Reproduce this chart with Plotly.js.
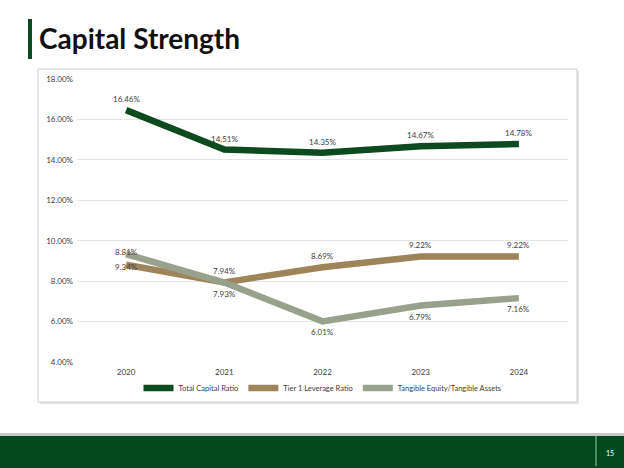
<!DOCTYPE html>
<html>
<head>
<meta charset="utf-8">
<script src="https://cdn.plot.ly/plotly-3.0.1.min.js"></script>
<style>
  html, body { margin: 0; padding: 0; background: #ffffff; }
  #chart { width: 624px; height: 468px; }
</style>
</head>
<body>
<div id="chart"></div>
<script>
// Capital ratios by year (percent)
const years = ['2020', '2021', '2022', '2023', '2024'];
const totalCapital = [16.46, 14.51, 14.35, 14.67, 14.78];
const tier1Leverage = [8.81, 7.94, 8.69, 9.22, 9.22];
const tangibleEquity = [9.34, 7.93, 6.01, 6.79, 7.16];
const yTicks = [4, 6, 8, 10, 12, 14, 16, 18];

const W = 624, H = 468;
const M = { l: 77, r: 56, t: 79, b: 106 };
const PW = W - M.l - M.r, PH = H - M.t - M.b;
// page pixel -> paper (plot-area) fraction
const px = x => (x - M.l) / PW;
const py = y => (H - M.b - y) / PH;

const fmt = v => v.toFixed(2) + '%';
const FONT = 'Lato, "Open Sans", sans-serif';
const labelFont = { family: FONT, size: 8, color: '#404040' };

const series = [
  { name: 'Total Capital Ratio', values: totalCapital, color: '#0e4a1f', shift: 11 },
  { name: 'Tier 1 Leverage Ratio', values: tier1Leverage, color: '#9f845a', shift: 11 },
  { name: 'Tangible Equity/Tangible Assets', values: tangibleEquity, color: '#98a18c', shift: -11 }
];

const traces = series.map(s => ({
  type: 'scatter',
  mode: 'lines',
  name: s.name,
  x: years,
  y: s.values,
  line: { color: s.color, width: 6.5 },
  cliponaxis: false,
  hoverinfo: 'skip'
}));

// value labels above / below each point (x given as the category index)
const valueLabels = [];
series.forEach(s => {
  s.values.forEach((v, i) => {
    // the two 2020 lower labels sit close together; spread them a little
    const extra = (i === 0 && s.values !== totalCapital) ? 2 : 0;
    valueLabels.push({
      x: i, y: v, xref: 'x', yref: 'y',
      text: fmt(v), showarrow: false,
      xanchor: 'center', yanchor: 'middle',
      yshift: s.shift + Math.sign(s.shift) * extra,
      font: labelFont
    });
  });
});

const layout = {
  width: W,
  height: H,
  paper_bgcolor: '#ffffff',
  plot_bgcolor: 'rgba(0,0,0,0)',
  margin: M,
  showlegend: true,
  legend: {
    orientation: 'h',
    x: 0.5, xanchor: 'center',
    y: py(388), yanchor: 'middle',
    font: { family: FONT, size: 7.5, color: '#404040' },
    itemwidth: 30,
    tracegroupgap: 0,
    bgcolor: 'rgba(0,0,0,0)'
  },
  xaxis: {
    type: 'category',
    range: [-0.5, 4.5],
    showgrid: false,
    zeroline: false,
    showline: false,
    ticks: '',
    ticklabelstandoff: 4,
    tickfont: { family: FONT, size: 8, color: '#404040' },
    fixedrange: true
  },
  yaxis: {
    range: [4, 18],
    tickvals: yTicks,
    ticktext: yTicks.map(v => v.toFixed(2) + '%'),
    showgrid: true,
    gridcolor: '#e4e4e4',
    gridwidth: 1,
    zeroline: false,
    showline: false,
    ticks: '',
    ticklabelstandoff: 3,
    tickfont: { family: FONT, size: 8, color: '#404040' },
    fixedrange: true
  },
  shapes: [
    // chart panel shadow and border
    { type: 'rect', xref: 'paper', yref: 'paper', x0: px(40), x1: px(579), y0: py(404), y1: py(71),
      line: { width: 0 }, fillcolor: 'rgba(0,0,0,0.10)', layer: 'below' },
    { type: 'rect', xref: 'paper', yref: 'paper', x0: px(38), x1: px(577), y0: py(402), y1: py(69),
      line: { color: '#d0d0d0', width: 1 }, fillcolor: '#ffffff', layer: 'below' },
    // title accent bar
    { type: 'rect', xref: 'paper', yref: 'paper', x0: px(28), x1: px(32), y0: py(59), y1: py(19),
      line: { width: 0 }, fillcolor: '#0e4a1f' },
    // footer band
    { type: 'rect', xref: 'paper', yref: 'paper', x0: px(0), x1: px(W), y0: py(436), y1: py(433),
      line: { width: 0 }, fillcolor: '#c8c8c8' },
    { type: 'rect', xref: 'paper', yref: 'paper', x0: px(0), x1: px(W), y0: py(H), y1: py(436),
      line: { width: 0 }, fillcolor: '#024a1c' },
    { type: 'line', xref: 'paper', yref: 'paper', x0: px(596), x1: px(596), y0: py(466), y1: py(436),
      line: { color: '#9fc7a8', width: 1 } }
  ],
  annotations: [
    { text: '<b>Capital Strength</b>', xref: 'paper', yref: 'paper', x: px(37), y: py(38),
      xanchor: 'left', yanchor: 'middle', showarrow: false,
      font: { family: FONT, size: 28, color: '#111111' } },
    { text: '15', xref: 'paper', yref: 'paper', x: px(610), y: py(453),
      xanchor: 'center', yanchor: 'middle', showarrow: false,
      font: { family: FONT, size: 7, color: '#ffffff' } }
  ].concat(valueLabels)
};

Plotly.newPlot('chart', traces, layout, { displayModeBar: false, staticPlot: true });
</script>
</body>
</html>
